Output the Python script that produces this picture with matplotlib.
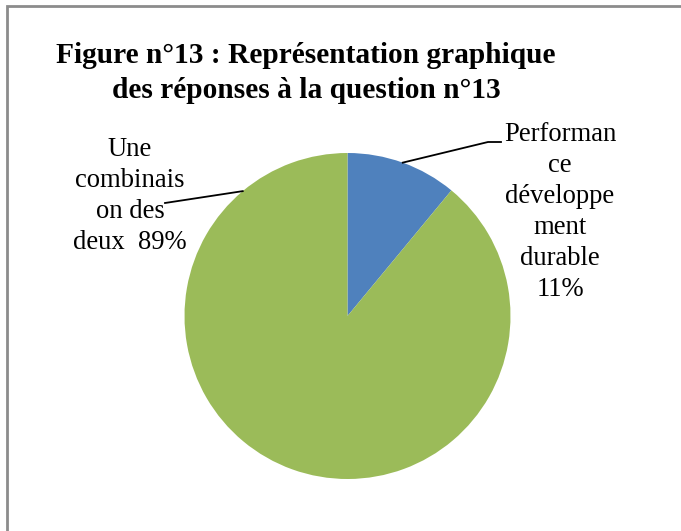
import numpy as np
import matplotlib.pyplot as plt
from matplotlib.patches import Rectangle

# Data
labels = ['Performan\nce\ndéveloppe\nment\ndurable\n11%', 'Une\ncombinais\non des\ndeux  89%']
values = [11, 89]
colors = ['#4F81BD', '#9BBB59']
title = 'Figure n°13 : Représentation graphique\ndes réponses à la question n°13'

W, H = 681, 531
fig = plt.figure(figsize=(W / 100, H / 100), dpi=100)
ax = fig.add_axes([0, 0, 1, 1])

# chart border
ax.add_patch(Rectangle((7, -10), W + 10, H - 6 + 10, fill=False,
                       edgecolor='#8c8c8c', linewidth=2))

cx, cy, r = 347.5, H - 316, 163
wedges, _ = ax.pie(values, colors=colors, startangle=90, counterclock=False,
                   center=(cx, cy), radius=r, frame=True,
                   wedgeprops=dict(linewidth=0))
ax.set_xlim(0, W)
ax.set_ylim(0, H)
ax.set_aspect('equal')
ax.axis('off')

ax.text(306, H - 73, title, ha='center', va='center', fontsize=21.2,
        fontweight='bold', family='Liberation Serif', linespacing=1.4)

font = dict(fontsize=19.2, family='Liberation Serif', ha='center', va='center',
            linespacing=1.31)

# label positions (text centre) and leader-line anchors on the pie edge
label_pos = [(560, H - 212), (130, H - 196)]
edge_angle = [90 - values[0] / 100 * 360 / 2, 130]
elbows = [[(488, H - 142), (501, H - 142)], [(165, H - 203)]]

for lab, pos, ang, elb in zip(labels, label_pos, edge_angle, elbows):
    ax.text(pos[0], pos[1], lab, **font)
    ex = cx + r * np.cos(np.radians(ang))
    ey = cy + r * np.sin(np.radians(ang))
    xs = [ex] + [p[0] for p in elb]
    ys = [ey] + [p[1] for p in elb]
    ax.plot(xs, ys, color='black', linewidth=1.3)

fig.savefig('out.png', dpi=100, facecolor='white')
